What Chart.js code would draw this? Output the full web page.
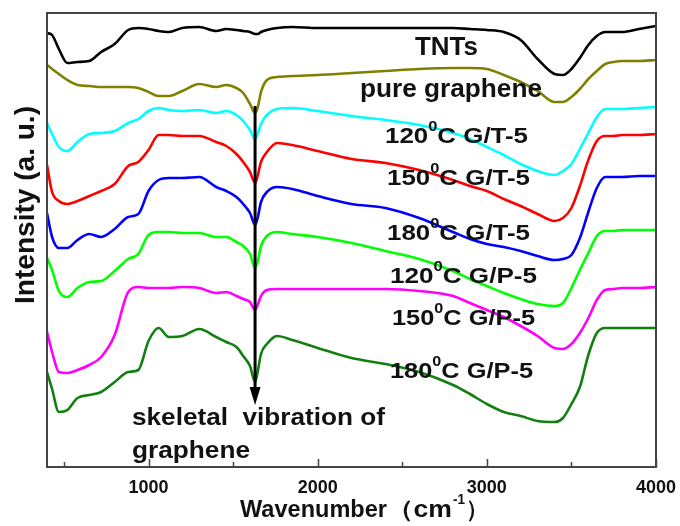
<!DOCTYPE html>
<html>
<head>
<meta charset="utf-8">
<script src="https://cdn.jsdelivr.net/npm/chart.js@4/dist/chart.umd.min.js"></script>
<style>
  html, body { margin: 0; padding: 0; background: #fff; }
</style>
</head>
<body>
<canvas id="ftir-chart" width="680" height="526"></canvas>
<script>
// shared wavenumber grid (cm-1)
const wavenumbers = [400, 430, 470, 520, 580, 650, 720, 800, 880, 940,
  1000, 1060, 1120, 1200, 1300, 1400, 1460, 1520, 1560, 1600,
  1630, 1645, 1665, 1700, 1760, 1850, 2000, 2200, 2400, 2600,
  2800, 2900, 3000, 3100, 3200, 3300, 3400, 3450, 3500, 3550,
  3600, 3650, 3700, 3750, 3800, 3900, 4000];

// intensities (a. u., offset curves as drawn)
const tnts = [434, 432, 418, 404, 405, 406, 415, 423, 437, 439, 438, 436, 435, 439, 440, 436, 438, 437, 436, 435, 433, 433, 435, 437, 439, 440, 439, 439, 439, 439, 439, 438, 437, 435, 427, 408, 393, 392, 398, 409, 422, 431, 435, 435, 435, 438, 441];
const pureGraphene = [402, 398, 393, 387, 382, 381, 380, 380, 380, 379, 375, 371, 371, 376, 383, 380, 382, 379, 374, 363, 354, 359, 375, 387, 390, 391, 392, 394, 396, 398, 399, 399, 398, 392, 385, 376, 365, 365, 370, 378, 388, 396, 403, 405, 406, 406, 407];
const gt120 = [344, 333, 320, 316, 325, 333, 334, 336, 344, 348, 356, 359, 357, 356, 357, 354, 356, 352, 346, 337, 328, 333, 343, 352, 358, 359, 356, 351, 347, 342, 334, 328, 320, 312, 303, 296, 292, 296, 303, 318, 334, 350, 358, 358, 358, 359, 360];
const gt150 = [302, 275, 266, 263, 266, 271, 276, 283, 301, 305, 317, 332, 332, 331, 331, 325, 321, 313, 305, 295, 284, 291, 305, 315, 324, 322, 316, 308, 304, 297, 287, 281, 276, 268, 261, 253, 246, 249, 259, 281, 307, 326, 331, 331, 332, 332, 333];
const gt180 = [254, 230, 219, 219, 227, 233, 230, 238, 250, 253, 276, 287, 289, 289, 290, 280, 276, 270, 263, 254, 242, 249, 265, 275, 280, 278, 271, 263, 259, 249, 235, 228, 223, 220, 216, 211, 207, 208, 212, 229, 255, 279, 290, 290, 290, 291, 291];
const gp120 = [209, 197, 176, 170, 179, 185, 186, 196, 208, 213, 232, 235, 235, 234, 234, 230, 230, 225, 221, 213, 199, 205, 221, 231, 235, 233, 230, 224, 216, 208, 196, 188, 181, 174, 168, 163, 161, 164, 179, 197, 214, 231, 236, 236, 237, 237, 237];
const gp150 = [135, 115, 95, 94, 97, 102, 110, 132, 175, 180, 179, 179, 179, 180, 179, 174, 175, 171, 168, 165, 157, 162, 171, 177, 178, 178, 178, 178, 178, 176, 171, 164, 157, 150, 141, 131, 119, 118, 123, 134, 149, 167, 177, 178, 179, 179, 180];
const gp180 = [95, 78, 55, 57, 69, 72, 75, 85, 95, 97, 126, 139, 130, 131, 138, 130, 125, 120, 111, 101, 85, 95, 113, 123, 131, 127, 119, 109, 103, 95, 82, 73, 63, 55, 51, 46, 45, 49, 63, 80, 112, 134, 139, 139, 139, 139, 139];

const seriesNames = ['TNTs', 'pure graphene', '120°C G/T-5', '150°C G/T-5', '180°C G/T-5', '120°C G/P-5', '150°C G/P-5', '180°C G/P-5'];
const seriesColors = ['#000000', '#808000', '#00ffff', '#ff0000', '#0000ff', '#00ff00', '#ff00ff', '#118011'];
const seriesValues = [tnts, pureGraphene, gt120, gt150, gt180, gp120, gp150, gp180];

const xTicks = [1000, 2000, 3000, 4000];
const xMinorTicks = [500, 1500, 2500, 3500];

const FONT = '"Liberation Sans", Arial, sans-serif';

// draw text pieces (with superscripts) squeezed to a given width
function drawParts(ctx, parts, x, y, size, width) {
  const supSize = Math.round(size * 0.62);
  let natural = 0;
  parts.forEach(p => {
    ctx.font = 'bold ' + (p.sup ? supSize : size) + 'px ' + FONT;
    natural += ctx.measureText(p.t).width;
  });
  ctx.save();
  ctx.translate(x, y);
  ctx.scale(width / natural, 1);
  ctx.textAlign = 'left';
  ctx.textBaseline = 'alphabetic';
  let cx = 0;
  parts.forEach(p => {
    ctx.font = 'bold ' + (p.sup ? supSize : size) + 'px ' + FONT;
    ctx.fillText(p.t, cx, p.sup ? -size * 0.56 : 0);
    cx += ctx.measureText(p.t).width;
  });
  ctx.restore();
}

const curveLabels = [
  { parts: [{ t: 'TNTs' }], x: 415, y: 55, size: 25, w: 63 },
  { parts: [{ t: 'pure graphene' }], x: 360, y: 97, size: 25, w: 182 },
  { parts: [{ t: '120' }, { t: '0', sup: true }, { t: 'C G/T-5' }], x: 385, y: 143, size: 22, w: 143 },
  { parts: [{ t: '150' }, { t: '0', sup: true }, { t: 'C G/T-5' }], x: 387, y: 185, size: 22, w: 143 },
  { parts: [{ t: '180' }, { t: '0', sup: true }, { t: 'C G/T-5' }], x: 387, y: 240, size: 22, w: 143 },
  { parts: [{ t: '120' }, { t: '0', sup: true }, { t: 'C G/P-5' }], x: 390, y: 283, size: 22, w: 147 },
  { parts: [{ t: '150' }, { t: '0', sup: true }, { t: 'C G/P-5' }], x: 392, y: 325, size: 22, w: 143 },
  { parts: [{ t: '180' }, { t: '0', sup: true }, { t: 'C G/P-5' }], x: 390, y: 378, size: 22, w: 143 },
  { parts: [{ t: 'skeletal  vibration of' }], x: 132, y: 425, size: 24, w: 253 },
  { parts: [{ t: 'graphene' }], x: 132, y: 458, size: 24, w: 118 }
];

const decorPlugin = {
  id: 'decor',
  afterDatasetsDraw(chart) {
    const ctx = chart.ctx;
    const a = chart.chartArea;
    const xs = chart.scales.x;
    const ys = chart.scales.y;

    // arrow: skeletal vibration of graphene
    const ax = xs.getPixelForValue(1630);
    const top = ys.getPixelForValue(361);
    const base = ys.getPixelForValue(80);
    const tip = ys.getPixelForValue(62);
    ctx.save();
    ctx.strokeStyle = '#000';
    ctx.fillStyle = '#000';
    ctx.lineWidth = 3;
    ctx.beginPath();
    ctx.moveTo(ax, top);
    ctx.lineTo(ax, base + 1);
    ctx.stroke();
    ctx.beginPath();
    ctx.moveTo(ax - 5.5, base);
    ctx.lineTo(ax + 5.5, base);
    ctx.lineTo(ax, tip);
    ctx.closePath();
    ctx.fill();
    ctx.restore();

    // frame
    ctx.save();
    ctx.strokeStyle = '#444';
    ctx.lineWidth = 2;
    ctx.strokeRect(a.left, a.top, a.right - a.left, a.bottom - a.top);
    // inward ticks on bottom axis
    ctx.lineWidth = 1.5;
    ctx.beginPath();
    xTicks.forEach(v => {
      const px = Math.round(xs.getPixelForValue(v)) + 0.5;
      ctx.moveTo(px, a.bottom);
      ctx.lineTo(px, a.bottom - 8);
    });
    xMinorTicks.forEach(v => {
      const px = Math.round(xs.getPixelForValue(v)) + 0.5;
      ctx.moveTo(px, a.bottom);
      ctx.lineTo(px, a.bottom - 5);
    });
    ctx.stroke();
    ctx.restore();

    // curve labels
    ctx.save();
    ctx.fillStyle = '#111';
    curveLabels.forEach(l => drawParts(ctx, l.parts, l.x, l.y, l.size, l.w));
    ctx.restore();

    // axis titles
    ctx.save();
    ctx.fillStyle = '#111';
    drawParts(ctx, [{ t: 'Wavenumber' }], 240, 517, 23, 147);
    drawParts(ctx, [{ t: '（cm' }], 387, 517, 23, 65);
    drawParts(ctx, [{ t: '-1', sup: true }], 453, 517, 23, 12);
    drawParts(ctx, [{ t: '）' }], 466, 517, 23, 22);
    ctx.translate(34, 205);
    ctx.rotate(-Math.PI / 2);
    drawParts(ctx, [{ t: 'Intensity (a. u.)' }], -99, 0, 28, 198);
    ctx.restore();
  }
};

const ctx = document.getElementById('ftir-chart').getContext('2d');
window.ftirChart = new Chart(ctx, {
  type: 'line',
  data: {
    datasets: seriesValues.map((vals, i) => ({
      label: seriesNames[i],
      data: wavenumbers.map((w, j) => ({ x: w, y: vals[j] })),
      borderColor: seriesColors[i],
      borderWidth: 2.6,
      pointRadius: 0,
      cubicInterpolationMode: 'monotone',
      fill: false
    }))
  },
  options: {
    responsive: false,
    animation: false,
    devicePixelRatio: 1,
    layout: { padding: { top: 13, right: 24, left: 0, bottom: 0 } },
    plugins: { legend: { display: false }, tooltip: { enabled: false } },
    scales: {
      x: {
        type: 'linear',
        min: 400,
        max: 4000,
        grid: { display: false },
        border: { display: false },
        afterBuildTicks: s => { s.ticks = xTicks.map(v => ({ value: v })); },
        afterFit: s => { s.height = 59; },
        ticks: {
          autoSkip: false,
          maxRotation: 0,
          padding: 2,
          color: '#111',
          font: { family: FONT, size: 18, weight: 'bold' },
          callback: v => String(v)
        }
      },
      y: {
        min: 0,
        max: 454,
        grid: { display: false },
        border: { display: false },
        ticks: { display: false },
        afterFit: s => { s.width = 47; }
      }
    }
  },
  plugins: [decorPlugin]
});
</script>
</body>
</html>
